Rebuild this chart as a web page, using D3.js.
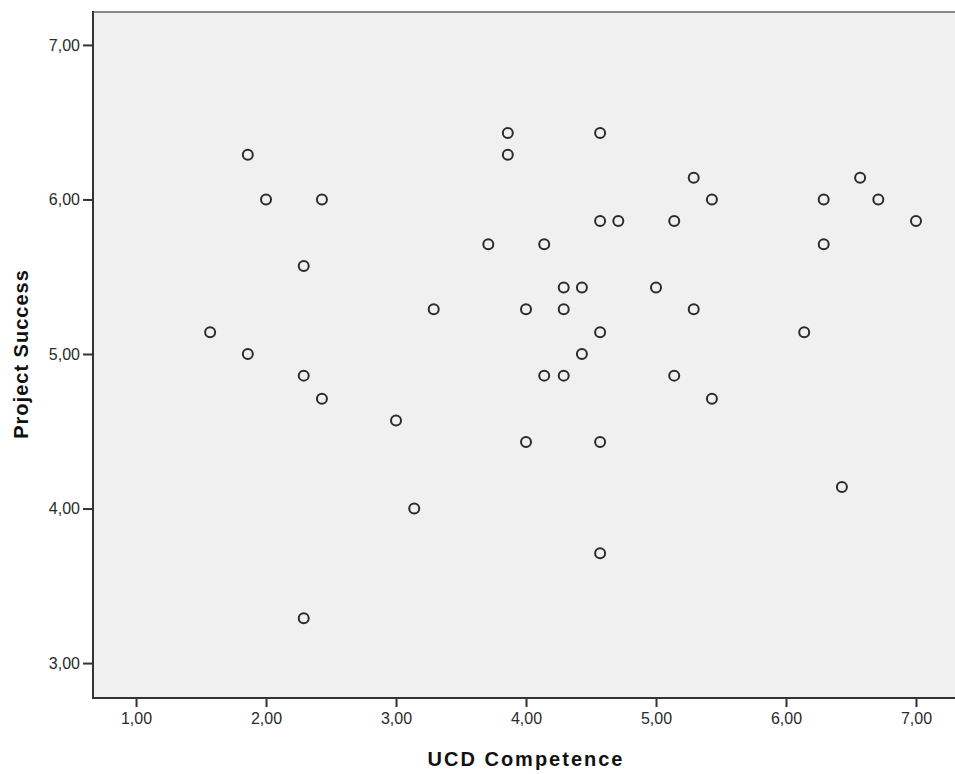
<!DOCTYPE html>
<html>
<head>
<meta charset="utf-8">
<script src="https://cdn.jsdelivr.net/npm/d3@7"></script>
<style>
body { margin: 0; background: #fff; }
text { font-family: "Liberation Sans", Arial, sans-serif; }
</style>
</head>
<body>
<svg id="chart" width="955" height="774"></svg>
<script>
// data (values are means of 7 items)
let ucdCompetence = [1.57,1.86,1.86,2.00,2.29,2.29,2.29,2.43,2.43,3.00,3.14,3.29,3.71,3.86,3.86,4.00,4.00,4.14,4.14,4.29,4.29,4.29,4.43,4.43,4.57,4.57,4.57,4.57,4.57,4.71,5.00,5.14,5.14,5.29,5.29,5.43,5.43,6.14,6.29,6.29,6.43,6.57,6.71,7.00];
let projectSuccess = [5.14,6.29,5.00,6.00,5.57,4.86,3.29,6.00,4.71,4.57,4.00,5.29,5.71,6.43,6.29,5.29,4.43,5.71,4.86,5.43,5.29,4.86,5.43,5.00,6.43,5.86,5.14,4.43,3.71,5.86,5.43,5.86,4.86,6.14,5.29,6.00,4.71,5.14,6.00,5.71,4.14,6.14,6.00,5.86];
let xTicks = [1,2,3,4,5,6,7];
let yTicks = [3,4,5,6,7];
let xTitle = "UCD Competence";
let yTitle = "Project Success";

let svg = d3.select("#chart");
let W = 955, H = 774;
let margin = {top: 12, right: 0, bottom: 76, left: 93};

let x = d3.scaleLinear().domain([0.669, 7.3]).range([margin.left, W - margin.right]);
let y = d3.scaleLinear().domain([2.774, 7.213]).range([H - margin.bottom, margin.top]);

let fmt = d => d3.format(".2f")(d).replace(".", ",");

// plot background
svg.append("rect")
    .attr("x", margin.left).attr("y", margin.top)
    .attr("width", W - margin.left - margin.right)
    .attr("height", H - margin.top - margin.bottom)
    .attr("fill", "#f0f0f0");

// top frame line (grey)
svg.append("line")
    .attr("x1", margin.left).attr("x2", W)
    .attr("y1", margin.top).attr("y2", margin.top)
    .attr("stroke", "#8a8a8a").attr("stroke-width", 2);

// axes
let xAxis = svg.append("g")
    .attr("transform", `translate(0,${H - margin.bottom})`)
    .call(d3.axisBottom(x).tickValues(xTicks).tickFormat(fmt).tickSize(9).tickPadding(6));
let yAxis = svg.append("g")
    .attr("transform", `translate(${margin.left},0)`)
    .call(d3.axisLeft(y).tickValues(yTicks).tickFormat(fmt).tickSize(10).tickPadding(3));

[xAxis, yAxis].forEach(g => {
    g.select(".domain").remove();
    g.selectAll(".tick line").attr("stroke", "#333").attr("stroke-width", 2);
    g.selectAll(".tick text")
        .attr("fill", "#2a2a2a")
        .style("font-size", "16px")
        .style("font-family", "'Liberation Sans', Arial, sans-serif");
});

// left and bottom frame lines
svg.append("line")
    .attr("x1", margin.left).attr("x2", margin.left)
    .attr("y1", margin.top - 1).attr("y2", H - margin.bottom + 1)
    .attr("stroke", "#333").attr("stroke-width", 2);
svg.append("line")
    .attr("x1", margin.left - 1).attr("x2", W)
    .attr("y1", H - margin.bottom).attr("y2", H - margin.bottom)
    .attr("stroke", "#333").attr("stroke-width", 2);

// points
svg.append("g").selectAll("circle")
    .data(ucdCompetence.map((d, i) => [d, projectSuccess[i]]))
    .enter()
    .append("circle")
    .attr("cx", d => x(d[0]))
    .attr("cy", d => y(d[1]))
    .attr("r", 5)
    .attr("fill", "none")
    .attr("stroke", "#2b2b2b")
    .attr("stroke-width", 2);

// axis titles
svg.append("text")
    .attr("x", (x(1) + x(7)) / 2)
    .attr("y", 766)
    .attr("text-anchor", "middle")
    .style("font-size", "20px")
    .style("font-weight", "bold")
    .style("letter-spacing", "2px")
    .attr("fill", "#111")
    .text(xTitle);

svg.append("text")
    .attr("transform", `translate(28,${(y(3) + y(7)) / 2}) rotate(-90)`)
    .attr("text-anchor", "middle")
    .style("font-size", "20px")
    .style("font-weight", "bold")
    .style("letter-spacing", "1px")
    .attr("fill", "#111")
    .text(yTitle);
</script>
</body>
</html>
